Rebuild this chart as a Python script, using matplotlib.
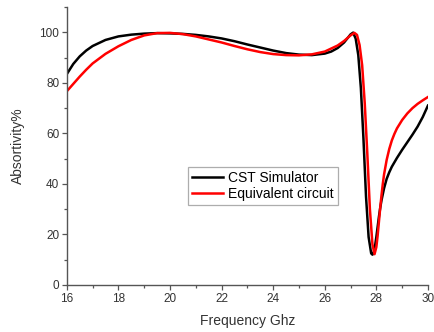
import matplotlib
matplotlib.use("Agg")
import matplotlib.pyplot as plt
from matplotlib.ticker import MultipleLocator

plt.rcParams['font.family'] = ['Liberation Sans', 'DejaVu Sans']

# CST simulator curve (frequency in GHz, absorptivity in %)
cst_freq = [16, 16.25, 16.5, 16.75, 17, 17.5, 18, 18.5, 19, 19.5, 20, 20.5, 21, 21.5,
            22, 22.5, 23, 23.5, 24, 24.5, 25, 25.5, 26, 26.25, 26.5, 26.75, 27, 27.1,
            27.2, 27.3, 27.4, 27.5, 27.6, 27.7, 27.8, 27.85, 27.9, 27.95, 28.0, 28.05,
            28.1, 28.15, 28.2, 28.3, 28.4, 28.5, 28.6, 28.8, 29.0, 29.2, 29.4, 29.6,
            29.8, 30]
cst_abs = [83.5, 87.5, 90.5, 92.8, 94.6, 97, 98.4, 99.1, 99.5, 99.7, 99.6, 99.4, 99, 98.4,
           97.6, 96.5, 95.2, 94, 92.8, 91.8, 91.2, 91, 91.6, 92.4, 93.8, 96, 99.2, 99.9,
           97.5, 91, 78, 58, 35, 19, 12.5, 12, 13, 15.5, 19, 23,
           27, 30.5, 33.5, 38.3, 42, 44.6, 46.8, 50.3, 53.5, 56.5, 59.5, 62.7,
           66.5, 71]

# Equivalent circuit curve
ec_freq = [16, 16.25, 16.5, 16.75, 17, 17.5, 18, 18.5, 19, 19.5, 20, 20.5, 21, 21.5,
           22, 22.5, 23, 23.5, 24, 24.5, 25, 25.5, 26, 26.5, 26.75, 27, 27.15, 27.25,
           27.35, 27.45, 27.55, 27.65, 27.75, 27.85, 27.93, 28.0, 28.05, 28.1, 28.15,
           28.2, 28.25, 28.3, 28.4, 28.5, 28.6, 28.7, 28.8, 29.0, 29.2, 29.4, 29.6,
           29.8, 30]
ec_abs = [76.7, 79.6, 82.5, 85.2, 87.7, 91.5, 94.5, 97, 98.8, 99.7, 99.8, 99.3, 98.4, 97.2,
          96, 94.6, 93.3, 92.2, 91.4, 91, 90.9, 91.3, 92.4, 94.8, 96.6, 98.8, 99.8, 99,
          95, 87, 72, 52, 30, 16, 12.2, 15, 19.5, 25, 30.5,
          35.5, 40, 43.8, 49.5, 53.8, 57.2, 59.8, 62, 65.3, 67.9, 70, 71.7,
          73.1, 74.4]

fig = plt.figure(figsize=(4.34, 3.32), dpi=100)
ax = fig.add_axes([0.154, 0.1416, 0.832, 0.837])

ax.plot(cst_freq, cst_abs, color="black", lw=1.8, label="CST Simulator")
ax.plot(ec_freq, ec_abs, color="#ff0000", lw=1.8, label="Equivalent circuit")

ax.set_xlim(16, 30)
ax.set_ylim(0, 110)
ax.xaxis.set_major_locator(MultipleLocator(2))
ax.xaxis.set_minor_locator(MultipleLocator(1))
ax.yaxis.set_major_locator(MultipleLocator(20))
ax.yaxis.set_minor_locator(MultipleLocator(10))
ax.set_yticks([0, 20, 40, 60, 80, 100])

for side in ["top", "right"]:
    ax.spines[side].set_visible(False)
for side in ["left", "bottom"]:
    ax.spines[side].set_color("#555555")
    ax.spines[side].set_linewidth(1.0)

ax.tick_params(which="major", direction="out", length=3.5, width=0.9, color="#555555",
               labelsize=8.5, labelcolor="#333333", pad=2)
ax.tick_params(which="minor", direction="out", length=2, width=0.9, color="#555555")

ax.set_xlabel("Frequency Ghz", fontsize=10, color="#333333", labelpad=7)
ax.set_ylabel("Absortivity%", fontsize=10, color="#333333", labelpad=10)

leg = ax.legend(loc="lower left", bbox_to_anchor=(0.335, 0.288), fontsize=10,
                frameon=True, fancybox=False, handlelength=2.2, handletextpad=0.4,
                borderpad=0.3, labelspacing=0.15, borderaxespad=0)
leg.get_frame().set_edgecolor("#999999")
leg.get_frame().set_linewidth(0.9)

fig.savefig("out.png", dpi=100)
